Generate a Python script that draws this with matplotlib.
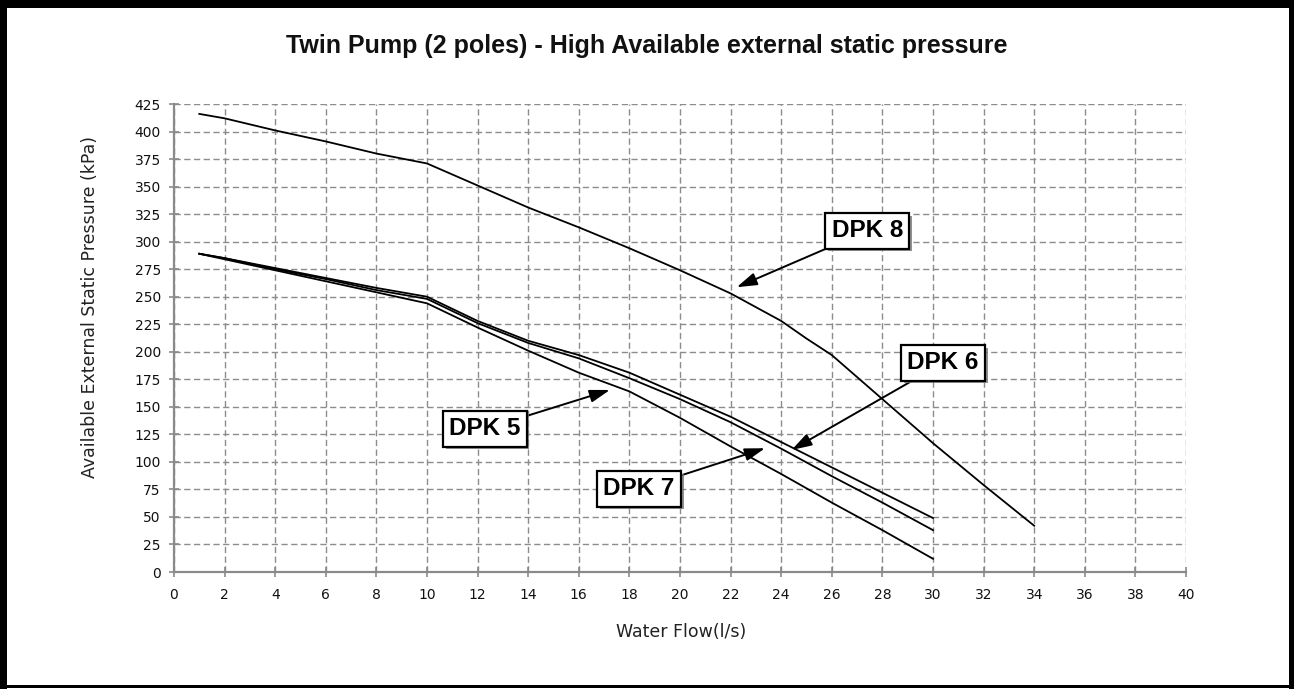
import matplotlib
matplotlib.use("Agg")
import matplotlib.pyplot as plt
import matplotlib.patheffects as pe
from matplotlib.patches import Rectangle

# ---- data ----
x_dpk8 = [1, 2, 4, 6, 8, 10, 12, 14, 16, 18, 20, 22, 24, 25, 26, 28, 30, 32, 34]
y_dpk8 = [416, 412, 401, 391, 380, 371, 351, 331, 313, 294, 274, 253, 228, 212, 197, 157, 117, 79, 42]

x_low = [1, 2, 4, 6, 8, 10, 12, 14, 16, 18, 20, 22, 24, 26, 28, 30]
y_dpk6 = [289, 285, 276, 267, 258, 250, 228, 210, 197, 181, 161, 141, 118, 95, 72, 49]
y_dpk7 = [289, 285, 275, 266, 256, 248, 226, 208, 194, 176, 157, 136, 112, 87, 63, 38]
y_dpk5 = [289, 284, 274, 264, 254, 244, 222, 201, 181, 164, 140, 114, 89, 63, 38, 12]

x_ticks = list(range(0, 41, 2))
y_ticks = list(range(0, 426, 25))

title = "Twin Pump (2 poles) - High Available external static pressure"
xlabel = "Water Flow(l/s)"
ylabel = "Available External Static Pressure (kPa)"

# label text, label centre (data), arrow tip (data)
labels = ["DPK 8", "DPK 6", "DPK 7", "DPK 5"]
label_pos = [(27.4, 309.7), (30.4, 189.8), (18.38, 75.4), (12.29, 129.9)]
label_tip = [(22.24, 258.6), (24.41, 110.8), (23.36, 112.4), (17.23, 165.3)]

narrow = ["Liberation Sans Narrow", "Liberation Sans", "DejaVu Sans"]

W, H = 1294, 690
fig = plt.figure(figsize=(W / 100, H / 100), dpi=100)
fig.patch.set_facecolor("white")

ax = fig.add_axes([174 / W, 1 - 572 / H, (1186 - 174) / W, (572 - 104) / H])
ax.set_facecolor("white")

ax.plot(x_dpk8, y_dpk8, color="black", lw=1.3, zorder=3)
for y in (y_dpk6, y_dpk7, y_dpk5):
    ax.plot(x_low, y, color="black", lw=1.3, zorder=3)

ax.set_xlim(0, 40)
ax.set_ylim(0, 425)
ax.set_xticks(x_ticks)
ax.set_yticks(y_ticks)
ax.grid(True, color="#8c8c8c", linestyle=(0, (4.5, 2.5)), lw=1.0, zorder=1)

for s in ("top", "right"):
    ax.spines[s].set_visible(False)
for s in ("left", "bottom"):
    ax.spines[s].set_color("#8a8a8a")
    ax.spines[s].set_linewidth(1.6)

ax.tick_params(axis="both", direction="inout", length=7, width=1.2,
               color="#8a8a8a", labelsize=10, labelcolor="#111111")
ax.tick_params(axis="y", pad=6)
ax.tick_params(axis="x", pad=8)
for lab in ax.get_xticklabels() + ax.get_yticklabels():
    lab.set_family("DejaVu Sans")

fig.text(681 / W, 1 - 632 / H, xlabel, ha="center", va="center",
         family="DejaVu Sans", fontsize=12.5, color="#222222")
fig.text(90 / W, 1 - 307 / H, ylabel, ha="center", va="center", rotation=90,
         family="DejaVu Sans", fontsize=12.5, color="#222222")

fig.text(647 / W, 1 - 46 / H, title, ha="center", va="center",
         family=narrow, fontweight="bold", fontsize=18, color="#111111")

for txt, pos, tip in zip(labels, label_pos, label_tip):
    ann = ax.annotate(
        txt, xy=tip, xytext=pos, textcoords="data", ha="center", va="center",
        family=narrow, fontweight="bold", fontsize=17.5, color="black",
        bbox=dict(boxstyle="square,pad=0.25", fc="white", ec="black", lw=1.6),
        arrowprops=dict(arrowstyle="-|>,head_length=0.7,head_width=0.22",
                        color="black", lw=1.4, shrinkA=0, shrinkB=0),
        zorder=5,
    )
    ann.get_bbox_patch().set_path_effects(
        [pe.SimplePatchShadow(offset=(2, -2), shadow_rgbFace="#777777", alpha=0.8),
         pe.Normal()])

# outer frame
def frame(x0, y0, w, h):
    fig.patches.append(Rectangle((x0 / W, 1 - (y0 + h) / H), w / W, h / H,
                                 transform=fig.transFigure, fc="black",
                                 ec="none", zorder=10))

frame(0, 0, W, 8)        # top
frame(0, 0, 7, 689)      # left
frame(1289, 0, 5, 689)   # right
frame(0, 685, 1292, 3)   # bottom

fig.savefig("out.png", dpi=100, facecolor="white")
